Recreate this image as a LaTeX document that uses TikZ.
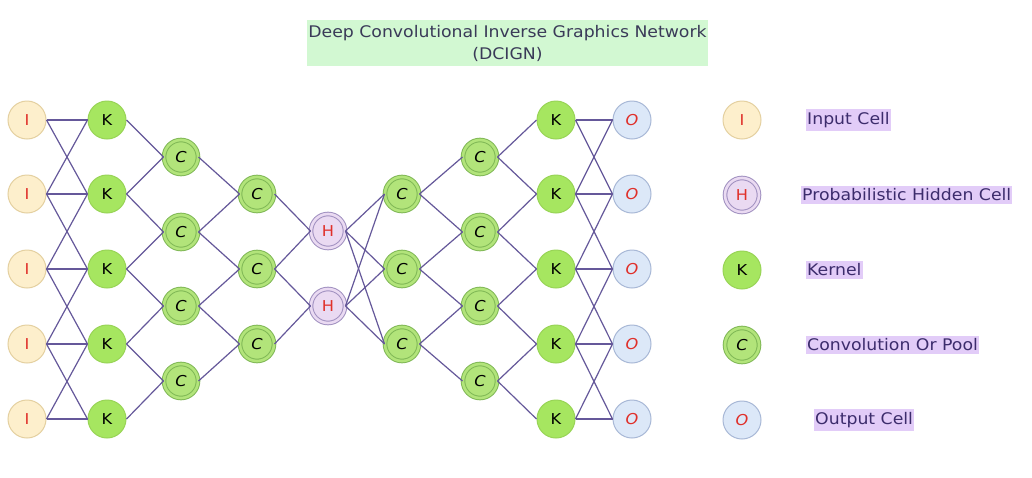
\documentclass[tikz,border=0pt]{standalone}
\usepackage{fontspec}
\setmainfont{DejaVu Sans}[FakeStretch=1.08]
\definecolor{edgeC}{HTML}{65589A}
\definecolor{inFill}{HTML}{FDEFCC}
\definecolor{inDraw}{HTML}{E4D0A0}
\definecolor{letRed}{HTML}{E0302A}
\definecolor{kFill}{HTML}{A6E660}
\definecolor{kDraw}{HTML}{98D456}
\definecolor{cFill}{HTML}{B2E47A}
\definecolor{cDraw}{HTML}{80B856}
\definecolor{hFill}{HTML}{EADAF2}
\definecolor{hDraw}{HTML}{A090C0}
\definecolor{oFill}{HTML}{DCE8F8}
\definecolor{oDraw}{HTML}{A8B8D6}
\definecolor{titleBg}{HTML}{D2F8D2}
\definecolor{titleTx}{HTML}{3A3A58}
\definecolor{legBg}{HTML}{E2CCF8}
\definecolor{legTx}{HTML}{3C2C6C}
\tikzset{
  cell/.style={circle, minimum size=38pt, inner sep=0pt, line width=1pt,
    font=\fontsize{15}{15}\selectfont},
  icell/.style={cell, fill=inFill, draw=inDraw, text=letRed},
  kcell/.style={cell, fill=kFill, draw=kDraw, text=black},
  ocell/.style={cell, fill=oFill, draw=oDraw, text=letRed, font=\fontsize{15}{15}\selectfont\itshape},
  ccell/.style={cell, minimum size=34pt, draw=cDraw, fill=cFill, double=cFill,
    double distance=2.6pt, line width=1pt, text=black, font=\fontsize{15}{15}\selectfont\itshape},
  hcell/.style={cell, minimum size=34pt, draw=hDraw, fill=hFill, double=hFill,
    double distance=2.6pt, line width=1pt, text=letRed},
  link/.style={draw=edgeC, line width=1.2pt},
  leg/.style={anchor=west, fill=legBg, text=legTx, inner xsep=1pt, inner ysep=3pt,
    font=\fontsize{16}{18}\selectfont}
}
\begin{document}
\begin{tikzpicture}[x=1pt,y=-1pt]
\useasboundingbox (0,0) rectangle (1032,477);
\fill[white] (0,0) rectangle (1032,477);
% title
\node[fill=titleBg, text=titleTx, minimum width=401pt, minimum height=46pt, align=center,
  inner sep=0pt, font=\fontsize{16}{22}\selectfont] (title) at (507.5,43)
  {Deep Convolutional Inverse Graphics Network\\(DCIGN)};
% nodes
\foreach \i/\y in {1/120,2/194,3/269,4/344,5/419}{
  \node[icell] (I\i) at (27,\y) {I};
  \node[kcell] (K\i) at (107,\y) {K};
  \node[kcell] (L\i) at (556,\y) {K};
  \node[ocell] (O\i) at (632,\y) {O};
}
\foreach \i/\y in {1/157,2/232,3/306,4/381}{
  \node[ccell] (A\i) at (181,\y) {C};
  \node[ccell] (D\i) at (480,\y) {C};
}
\foreach \i/\y in {1/194,2/269,3/344}{
  \node[ccell] (B\i) at (257,\y) {C};
  \node[ccell] (E\i) at (402,\y) {C};
}
\node[hcell] (H1) at (328,231) {H};
\node[hcell] (H2) at (328,306) {H};
% edges I-K and K-O
\foreach \i/\j in {1/1,1/2,2/1,2/2,2/3,3/2,3/3,3/4,4/3,4/4,4/5,5/4,5/5}{
  \draw[link] (I\i.east) -- (K\j.west);
  \draw[link] (L\i.east) -- (O\j.west);
}
% K-C1 and C4-K2
\foreach \k/\c in {1/1,2/1,2/2,3/2,3/3,4/3,4/4,5/4}{
  \draw[link] (K\k.east) -- (A\c.west);
  \draw[link] (D\c.east) -- (L\k.west);
}
% C1-C2 and C3-C4
\foreach \a/\b in {1/1,2/1,2/2,3/2,3/3,4/3}{
  \draw[link] (A\a.east) -- (B\b.west);
  \draw[link] (E\b.east) -- (D\a.west);
}
% C2-H
\foreach \b/\h in {1/1,2/1,2/2,3/2}{
  \draw[link] (B\b.east) -- (H\h.west);
}
% H-C3
\foreach \h in {1,2}{
  \foreach \e in {1,2,3}{
    \draw[link] (H\h.east) -- (E\e.west);
  }
}
% legend
\node[icell] (LI) at (742,120) {I};
\node[hcell] (LH) at (742,195) {H};
\node[kcell] (LK) at (742,270) {K};
\node[ccell] (LC) at (742,345) {C};
\node[ocell] (LO) at (742,420) {O};
\node[leg] (TI) at (806,120) {Input Cell};
\node[leg] (TH) at (801,195) {Probabilistic Hidden Cell};
\node[leg] (TK) at (806,270) {Kernel};
\node[leg] (TC) at (806,345) {Convolution Or Pool};
\node[leg] (TO) at (814,420) {Output Cell};
\end{tikzpicture}
\end{document}
